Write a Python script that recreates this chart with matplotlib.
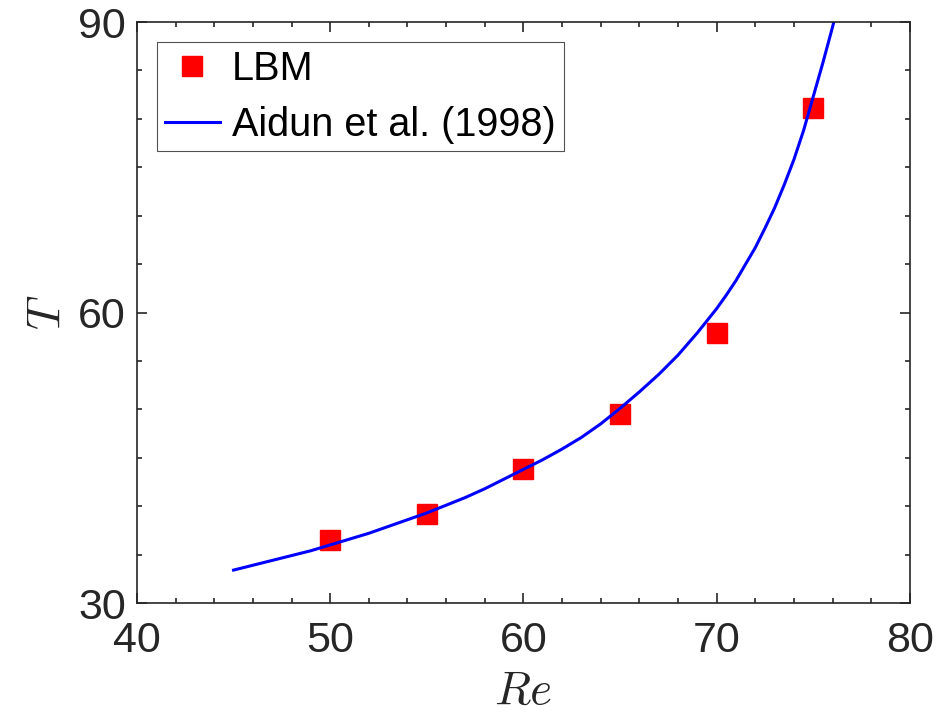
import matplotlib
matplotlib.use("Agg")
import matplotlib.pyplot as plt
from matplotlib.ticker import MultipleLocator

# LBM results
re_lbm = [50, 55, 60, 65, 70, 75]
t_lbm = [36.5, 39.2, 43.8, 49.5, 57.85, 81.15]

# Aidun et al. (1998) curve
re_aidun = [45, 46, 47, 48, 49, 50, 51, 52, 53, 54, 55, 56, 57, 58, 59, 60,
            61, 62, 63, 64, 65, 66, 67, 68, 69, 70, 70.5, 71, 71.5, 72, 72.5,
            73, 73.5, 74, 74.5, 75, 75.5, 76, 76.1]
t_aidun = [33.4, 33.9, 34.4, 34.9, 35.4, 36.0, 36.6, 37.2, 37.9, 38.6, 39.3,
           40.1, 40.9, 41.8, 42.8, 43.8, 44.8, 45.9, 47.1, 48.5, 50.1, 51.8,
           53.6, 55.6, 57.9, 60.4, 61.8, 63.3, 65.0, 66.7, 68.7, 70.8, 73.2,
           75.8, 78.8, 82.3, 85.8, 89.5, 90.3]

plt.rcParams["font.family"] = ["Liberation Sans", "DejaVu Sans"]
plt.rcParams["mathtext.fontset"] = "cm"
dark = "#262626"

fig = plt.figure(figsize=(9.38, 7.22), dpi=100)
ax = fig.add_axes([0.146, 0.1648, 0.824, 0.8047])

ax.plot(re_lbm, t_lbm, "s", color="red", markersize=14, label="LBM")
ax.plot(re_aidun, t_aidun, "-", color="blue", linewidth=2.2,
        label="Aidun et al. (1998)")

ax.set_xlim(40, 80)
ax.set_ylim(30, 90)
ax.set_xticks([40, 50, 60, 70, 80])
ax.set_yticks([30, 60, 90])
ax.xaxis.set_minor_locator(MultipleLocator(2))
ax.yaxis.set_minor_locator(MultipleLocator(5))
ax.tick_params(which="both", direction="in", top=True, right=True,
               colors=dark, width=1.2, labelsize=31, labelcolor=dark)
ax.tick_params(which="major", length=7, pad=8)
ax.tick_params(axis="x", which="major", pad=13)
ax.tick_params(which="minor", length=3.6)
for s in ax.spines.values():
    s.set_color(dark)
    s.set_linewidth(1.2)

ax.set_xlabel(r"$Re$", fontsize=34, color=dark, labelpad=6)
ax.set_ylabel(r"$T$", fontsize=34, color=dark, labelpad=6)

leg = ax.legend(loc="upper left", fontsize=28.5, frameon=True, fancybox=False,
                borderaxespad=0.5, handlelength=1.4, handletextpad=0.3,
                borderpad=0.2, labelspacing=0.45)
leg.get_frame().set_edgecolor(dark)
leg.get_frame().set_linewidth(0.8)

fig.savefig("out.png", dpi=100)
